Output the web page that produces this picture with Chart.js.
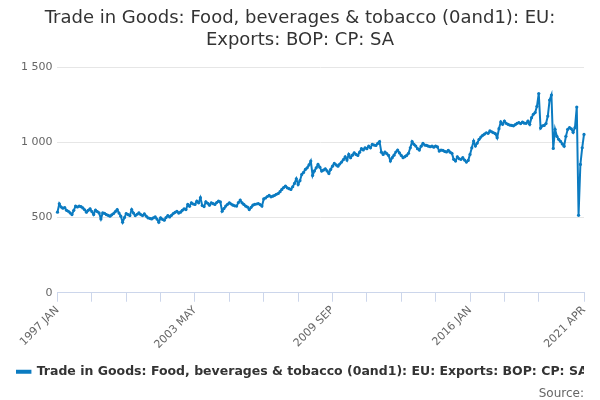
<!DOCTYPE html>
<html>
<head>
<meta charset="utf-8">
<script src="https://cdn.jsdelivr.net/npm/chart.js@4.4.1/dist/chart.umd.min.js"></script>
<style>
  html, body { margin: 0; padding: 0; background: #fff; }
  #wrap { width: 600px; height: 400px; }
</style>
</head>
<body>
<div id="wrap"><canvas id="tradeChart"></canvas></div>
<script>
var monthNames = ['JAN', 'FEB', 'MAR', 'APR', 'MAY', 'JUN', 'JUL', 'AUG', 'SEP', 'OCT', 'NOV', 'DEC'];
var firstYear = 1997;

var values1997 = [536, 591, 570, 562, 566, 548, 542, 531, 520, 548, 576, 570];
var values1998 = [576, 572, 564, 552, 536, 548, 558, 540, 520, 549, 540, 531];
var values1999 = [491, 531, 528, 520, 515, 509, 518, 527, 540, 553, 530, 509];
var values2000 = [469, 500, 527, 520, 513, 553, 530, 513, 522, 531, 520, 513];
var values2001 = [524, 510, 498, 495, 491, 498, 504, 490, 469, 498, 488, 482];
var values2002 = [500, 513, 504, 515, 527, 535, 542, 530, 536, 548, 558, 553];
var values2003 = [587, 575, 598, 590, 587, 609, 598, 632, 580, 573, 605, 595];
var values2004 = [582, 598, 592, 587, 600, 609, 604, 542, 560, 576, 588, 598];
var values2005 = [590, 582, 578, 576, 600, 616, 598, 587, 576, 570, 553, 568];
var values2006 = [582, 588, 590, 593, 586, 576, 624, 630, 640, 647, 638, 642];
var values2007 = [648, 655, 660, 672, 687, 700, 709, 698, 692, 687, 705, 727];
var values2008 = [758, 720, 745, 787, 800, 820, 831, 850, 876, 780, 810, 831];
var values2009 = [853, 835, 809, 816, 824, 810, 793, 820, 842, 860, 850, 842];
var values2010 = [856, 869, 885, 904, 882, 920, 898, 915, 931, 920, 913, 935];
var values2011 = [958, 950, 964, 958, 975, 964, 987, 982, 980, 993, 1005, 935];
var values2012 = [920, 936, 925, 913, 876, 898, 915, 936, 949, 930, 913, 898];
var values2013 = [905, 913, 927, 964, 1005, 987, 976, 958, 949, 975, 993, 982];
var values2014 = [980, 975, 971, 975, 968, 976, 970, 942, 949, 947, 940, 936];
var values2015 = [947, 935, 927, 887, 876, 904, 891, 887, 898, 882, 869, 880];
var values2016 = [920, 964, 1009, 976, 995, 1020, 1035, 1047, 1055, 1064, 1060, 1076];
var values2017 = [1070, 1064, 1058, 1031, 1091, 1136, 1120, 1142, 1127, 1120, 1115, 1113];
var values2018 = [1110, 1118, 1127, 1131, 1125, 1135, 1128, 1127, 1142, 1120, 1164, 1187];
var values2019 = [1198, 1240, 1325, 1095, 1110, 1113, 1125, 1175, 1282, 1315, 960, 1087];
var values2020 = [1040, 1020, 1007, 990, 975, 1040, 1087, 1098, 1090, 1067, 1098, 1235];
var values2021 = [515, 853, 964, 1053];

var yTicks = [0, 500, 1000, 1500];
var seriesName = 'Trade in Goods: Food, beverages & tobacco (0and1): EU: Exports: BOP: CP: SA';
var titleLines = ['Trade in Goods: Food, beverages & tobacco (0and1): EU:', 'Exports: BOP: CP: SA'];

var exportValues = [].concat(values1997, values1998, values1999, values2000, values2001,
    values2002, values2003, values2004, values2005, values2006, values2007, values2008,
    values2009, values2010, values2011, values2012, values2013, values2014, values2015,
    values2016, values2017, values2018, values2019, values2020, values2021);

var monthLabels = [];
for (var i = 0; i < exportValues.length; i++) {
    monthLabels.push((firstYear + Math.floor(i / 12)) + ' ' + monthNames[i % 12]);
}
var lastIndex = monthLabels.length - 1;

// ticks every 19 months, labelled every 4th one, plus the last month
function isTickMark(idx) {
    return idx === lastIndex || (idx % 19 === 0 && idx !== 285);
}
function isLabelled(idx) {
    return idx === lastIndex || idx % 76 === 0;
}
function spaceThousands(v) {
    return String(v).replace(/\B(?=(\d{3})+(?!\d))/g, ' ');
}

var lineBlue = '#0b7bc1';
var font = 'DejaVu Sans';

new Chart(document.getElementById('tradeChart').getContext('2d'), {
    type: 'line',
    data: {
        labels: monthLabels,
        datasets: [{
            label: seriesName,
            data: exportValues,
            borderColor: lineBlue,
            backgroundColor: lineBlue,
            borderWidth: 2,
            pointRadius: 1.6,
            pointBorderWidth: 0,
            pointBackgroundColor: lineBlue,
            tension: 0
        }]
    },
    options: {
        responsive: true,
        maintainAspectRatio: false,
        animation: false,
        layout: { padding: { left: 16, right: 16, top: 8, bottom: 0 } },
        plugins: {
            title: {
                display: true,
                text: titleLines,
                color: '#333333',
                font: { family: font, size: 18, weight: 'normal', lineHeight: 1.2 },
                padding: { top: 0, bottom: 16 }
            },
            legend: {
                position: 'bottom',
                labels: {
                    boxWidth: 18,
                    boxHeight: 2,
                    color: '#333333',
                    padding: 12,
                    font: { family: font, size: 12.5, weight: 'bold' }
                }
            },
            subtitle: {
                display: true,
                position: 'bottom',
                align: 'end',
                text: 'Source:',
                color: '#666666',
                font: { family: font, size: 12, lineHeight: 1.0 },
                padding: { top: 0, bottom: 0 }
            },
            tooltip: { enabled: false }
        },
        scales: {
            x: {
                type: 'category',
                offset: false,
                border: { display: true, color: '#ccd6eb', width: 1 },
                grid: {
                    drawOnChartArea: false,
                    drawTicks: true,
                    tickLength: 9,
                    tickColor: function (ctx) {
                        return isTickMark(ctx.index) ? '#ccd6eb' : 'rgba(0,0,0,0)';
                    }
                },
                ticks: {
                    autoSkip: false,
                    maxRotation: 45,
                    minRotation: 45,
                    color: '#666666',
                    padding: 2,
                    font: { family: font, size: 11 },
                    callback: function (val, idx) {
                        return isLabelled(idx) ? monthLabels[idx] : '';
                    }
                }
            },
            y: {
                min: yTicks[0],
                max: yTicks[yTicks.length - 1],
                border: { display: false },
                grid: { color: '#e6e6e6', drawTicks: false },
                afterBuildTicks: function (axis) {
                    axis.ticks = yTicks.map(function (v) { return { value: v }; });
                },
                ticks: {
                    color: '#666666',
                    padding: 5,
                    font: { family: font, size: 11 },
                    callback: function (v) { return spaceThousands(v); }
                }
            }
        }
    }
});
</script>
</body>
</html>
